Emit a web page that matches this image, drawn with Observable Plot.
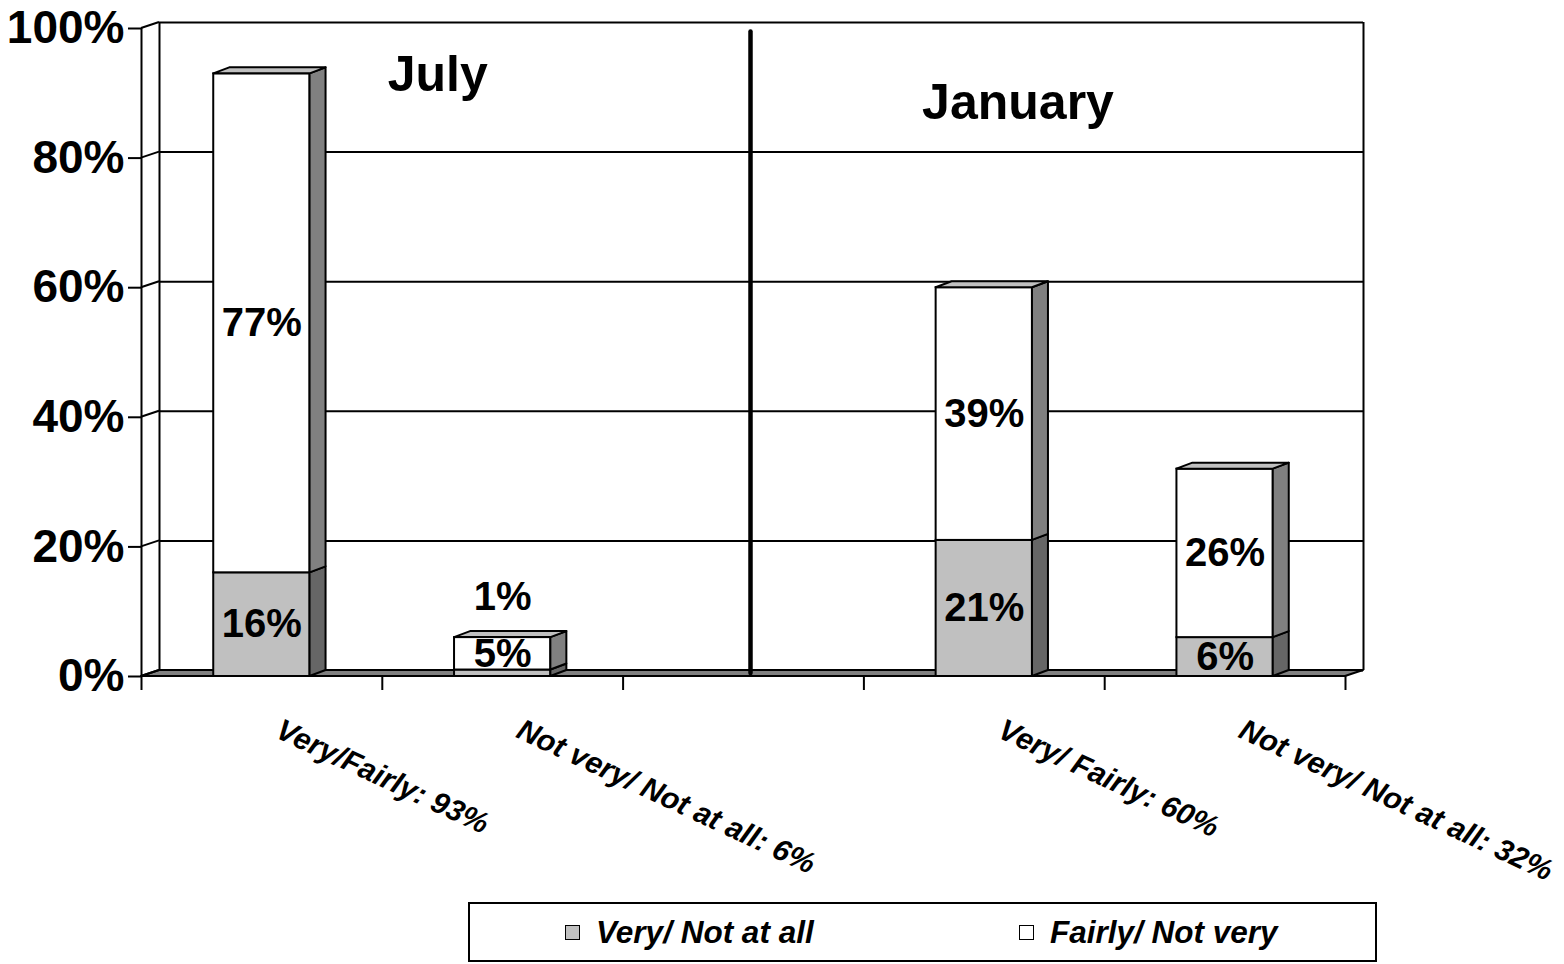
<!DOCTYPE html>
<html><head><meta charset="utf-8">
<script src="https://cdn.jsdelivr.net/npm/d3@7"></script>
<script src="https://cdn.jsdelivr.net/npm/@observablehq/plot@0.6"></script>
<style>
body{margin:0;background:#fff;font-family:"Liberation Sans",Arial,sans-serif;}
#wrap{position:relative;width:1564px;height:964px;overflow:hidden;}
#legend{position:absolute;left:468px;top:902px;width:905px;height:56px;border:2px solid #000;}
.item{position:absolute;top:0;height:56px;display:flex;align-items:center;font-weight:bold;font-style:italic;font-size:31.5px;color:#000;}
.sw{width:13px;height:13px;border:1.5px solid #000;margin-right:16px;}
</style></head>
<body><div id="wrap"><div id="chart"></div><div id="legend"></div></div>
<script>
// ---- data ----
const categories = ["Very/Fairly: 93%", "Not very/ Not at all: 6%", "", "Very/ Fairly: 60%", "Not very/ Not at all: 32%"];
const seriesNames = ["Very/ Not at all", "Fairly/ Not very"];
const veryNotAtAll = [16, 1, null, 21, 6];
const fairlyNotVery = [77, 5, null, 39, 26];
const periods = ["July", "January"];
const yTicks = [0, 20, 40, 60, 80, 100];

// ---- styling constants ----
const seriesFill = ["#c0c0c0", "#ffffff"];
const sideFill = ["#666666", "#808080"];
const topFill = "#c0c0c0";
const BX = 16, BY = -6;   // bar depth
const WX = 18, WY = -6;   // back wall depth

// build stacked segments
const segments = [];
categories.forEach((c, i) => {
  const vals = [veryNotAtAll[i], fairlyNotVery[i]];
  if (vals[0] == null) return;
  let base = 0;
  vals.forEach((v, s) => {
    segments.push({cat: c, i, series: seriesNames[s], s, value: v, x1: i + 0.3, x2: i + 0.7, y1: base, y2: base + v, total: vals[0] + vals[1], isTop: s === 1});
    base += v;
  });
});

function walls(index, {x, y}) {
  const g = d3.create("svg:g");
  const x0 = x(0), x5 = x(categories.length), y0 = y(0);
  g.append("path")
    .attr("d", `M${x0},${y0}L${x0 + WX},${y0 + WY}L${x5 + WX},${y0 + WY}L${x5},${y0}Z`)
    .attr("fill", "#808080").attr("stroke", "#000").attr("stroke-width", 2).attr("stroke-linejoin", "round");
  for (const t of yTicks) {
    g.append("line").attr("x1", x0).attr("y1", y(t)).attr("x2", x0 + WX).attr("y2", y(t) + WY)
      .attr("stroke", "#000").attr("stroke-width", 2);
  }
  return g.node();
}

function depthFaces(index, {x, y}) {
  const g = d3.create("svg:g");
  for (const d of segments) {
    const X1 = x(d.x1), X2 = x(d.x2), Y1 = y(d.y1), Y2 = y(d.y2);
    g.append("path")
      .attr("d", `M${X2},${Y1}L${X2 + BX},${Y1 + BY}L${X2 + BX},${Y2 + BY}L${X2},${Y2}Z`)
      .attr("fill", sideFill[d.s]).attr("stroke", "#000").attr("stroke-width", 2).attr("stroke-linejoin", "round");
    if (d.isTop) {
      g.append("path")
        .attr("d", `M${X1},${Y2}L${X1 + BX},${Y2 + BY}L${X2 + BX},${Y2 + BY}L${X2},${Y2}Z`)
        .attr("fill", topFill).attr("stroke", "#000").attr("stroke-width", 2).attr("stroke-linejoin", "round");
    }
  }
  return g.node();
}

const chart = Plot.plot({
  width: 1564,
  height: 890,
  marginLeft: 141,
  marginRight: 219,
  marginTop: 28,
  marginBottom: 214,
  style: {fontFamily: "'Liberation Sans', Arial, sans-serif", color: "#000", background: "#fff", overflow: "visible"},
  x: {type: "linear", domain: [0, categories.length]},
  y: {domain: [0, 100]},
  color: {type: "ordinal", domain: seriesNames, range: seriesFill},
  marks: [
    Plot.ruleY(yTicks, {dx: WX, dy: WY, stroke: "#000", strokeWidth: 2}),
    Plot.ruleX([0, categories.length], {dx: WX, dy: WY, stroke: "#000", strokeWidth: 2}),
    walls,
    Plot.ruleX([2.5], {y1: 0, y2: 99, dx: 7, dy: -3, stroke: "#000", strokeWidth: 4.5, strokeLinecap: "round"}),
    Plot.ruleX([0], {stroke: "#000", strokeWidth: 2}),
    Plot.rect(segments, {x1: "x1", x2: "x2", y1: "y1", y2: "y2", fill: "series", stroke: "#000", strokeWidth: 2}),
    depthFaces,
    Plot.text(segments.filter(d => d.value >= 3), {
      x: d => (d.x1 + d.x2) / 2, y: d => (d.y1 + d.y2) / 2, text: d => d.value + "%",
      fontSize: 40, fontWeight: "bold", fill: "#000"
    }),
    Plot.text(segments.filter(d => d.value < 3), {
      x: d => (d.x1 + d.x2) / 2, y: d => d.total, text: d => d.value + "%",
      dy: -40, fontSize: 40, fontWeight: "bold", fill: "#000"
    }),
    Plot.text(periods, {
      x: [1.23, 3.64], y: [90.4, 86.1], text: d => d, lineAnchor: "bottom",
      fontSize: 50, fontWeight: "bold", fill: "#000"
    }),
    Plot.text(categories.map((c, i) => ({c, i})).filter(d => d.c), {
      x: d => d.i + 0.5, y: () => 0, text: "c", rotate: 25, textAnchor: "start", lineAnchor: "top",
      dx: 21, dy: 41, fontSize: 30, fontWeight: "bold", fontStyle: "italic", fill: "#000"
    }),
    Plot.axisY({ticks: yTicks, tickFormat: d => d + "%", tickSize: 13, tickPadding: 4, fontSize: 46, fontWeight: "bold", label: null, strokeWidth: 2}),
    Plot.axisX({ticks: d3.range(categories.length + 1), tickSize: 14, tickFormat: () => "", label: null, strokeWidth: 2})
  ]
});
document.getElementById("chart").appendChild(chart);

// legend
const legend = document.getElementById("legend");
const legendX = [95, 549];
seriesNames.forEach((name, k) => {
  const item = document.createElement("div");
  item.className = "item";
  item.style.left = legendX[k] + "px";
  const sw = document.createElement("div");
  sw.className = "sw";
  sw.style.background = seriesFill[k];
  item.appendChild(sw);
  item.appendChild(document.createTextNode(name));
  legend.appendChild(item);
});
</script>
</body></html>
